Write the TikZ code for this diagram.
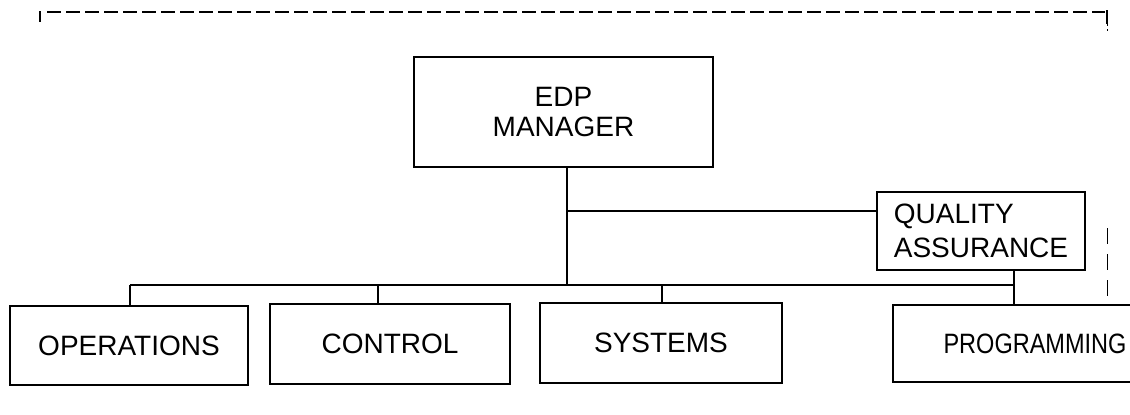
\documentclass[tikz,border=0pt]{standalone}
\usepackage{fontspec}
\usepackage{graphicx}
\setmainfont{Liberation Sans}
\begin{document}
\begin{tikzpicture}[x=1pt,y=-1pt,
  box/.style={draw, line width=2.1pt, inner sep=0pt, font=\fontsize{28}{30}\selectfont},
  link/.style={line width=2.1pt},
  frame/.style={line width=1.1pt, dash pattern=on 14pt off 5pt}]
\useasboundingbox (0,0) rectangle (1130,415);
% dashed frame fragments
\draw[frame] (47,12) -- (1105,12);
\draw[line width=1.3pt] (40,11) -- (40,22);
\draw[line width=2pt] (1107,10) -- (1107,24);
\draw[line width=0.8pt, dash pattern=on 2pt off 3pt] (1107,24) -- (1107,32);
\draw[line width=1pt, dash pattern=on 16pt off 10pt] (1107,228) -- (1107,300);
% boxes
\node[box, minimum width=299pt, minimum height=110pt, align=center] (edp) at (563.5,112)
  {EDP\\MANAGER};
\node[box, minimum width=208pt, minimum height=78pt, align=left, font=\fontsize{28}{34}\selectfont] (qa) at (981,231)
  {QUALITY\\ASSURANCE};
\node[box, minimum width=238pt, minimum height=79pt] (ops) at (129,345.5) {OPERATIONS};
\node[box, minimum width=240pt, minimum height=80pt] (ctl) at (390,344) {CONTROL};
\node[box, minimum width=242pt, minimum height=80pt] (sys) at (661,343) {SYSTEMS};
\node[box, minimum width=284pt, minimum height=77pt] (prog) at (1035,343.5) {\scalebox{0.84}[1]{PROGRAMMING}};
% connector points
\coordinate (j1) at (567,211);
\coordinate (j2) at (567,285);
\coordinate (bl) at (130,285);
\coordinate (br) at (1014,285);
\coordinate (tc) at (378,285);
\coordinate (ts) at (662,285);
% connectors
\draw[link] (edp.south -| j1) -- (j2);
\draw[link] (j1) -- (j1 -| qa.west);
\draw[link] (bl) -- (br);
\draw[link] (bl) -- (bl |- ops.north);
\draw[link] (tc) -- (tc |- ctl.north);
\draw[link] (ts) -- (ts |- sys.north);
\draw[link] (br |- qa.south) -- (br |- prog.north);
\end{tikzpicture}
\end{document}
